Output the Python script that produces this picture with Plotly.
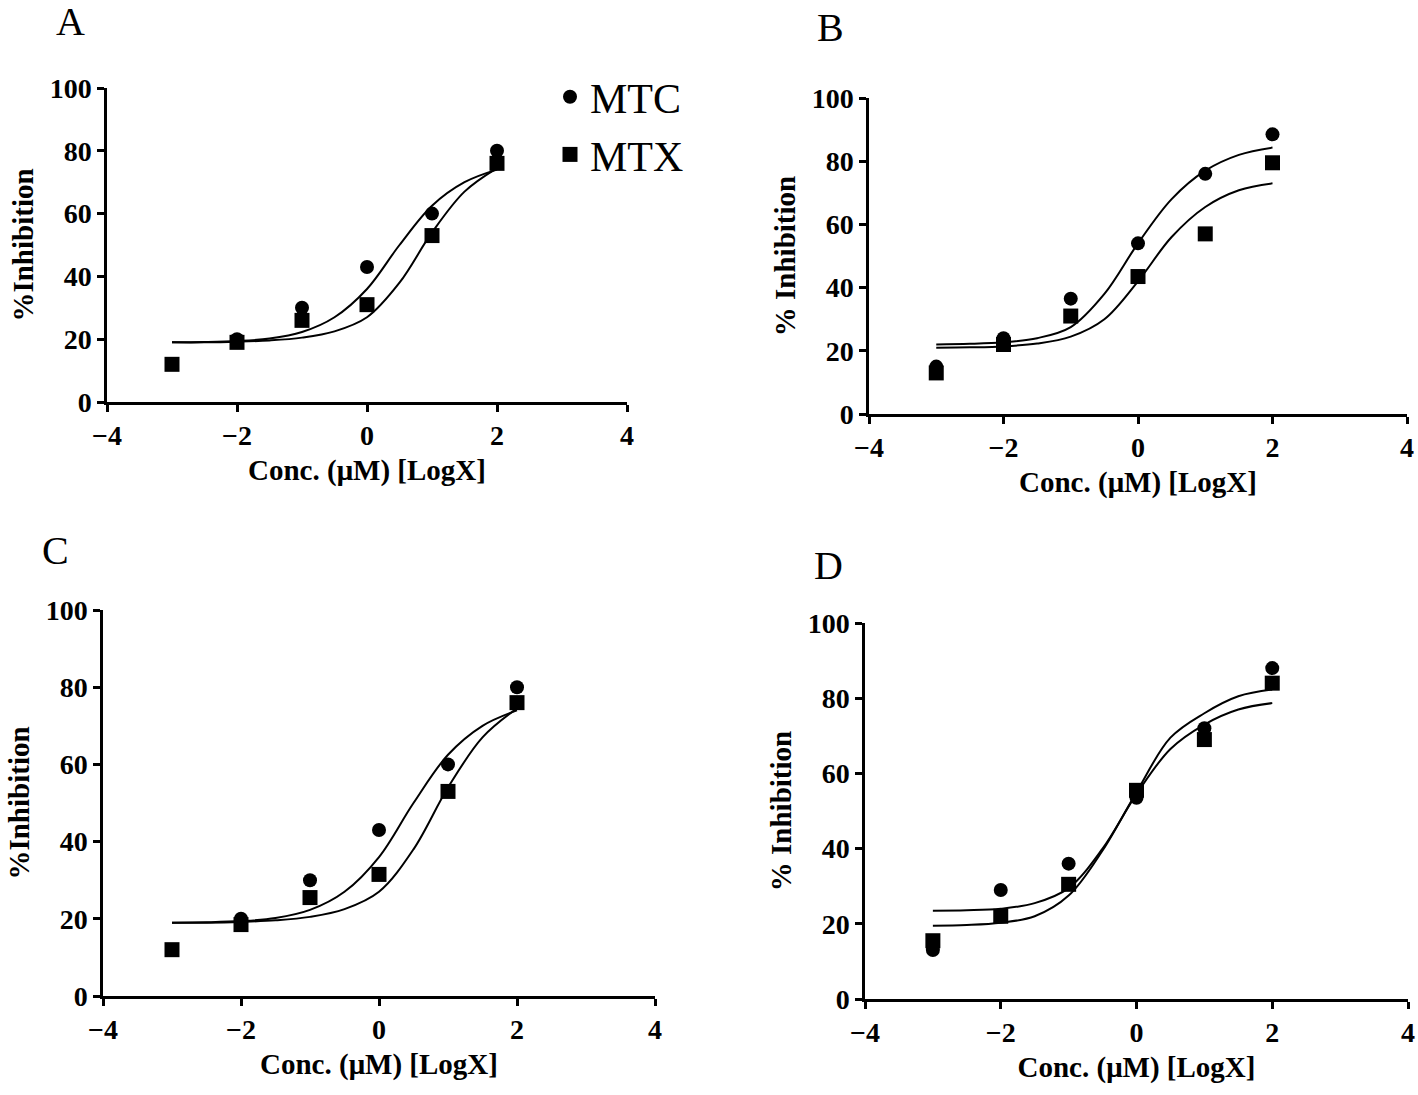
import plotly.graph_objects as go

# ---------------- data ----------------
dose_x = [-3, -2, -1, 0, 1, 2]
curve_x = [-3, -2.5, -2, -1.5, -1, -0.5, 0, 0.5, 1, 1.5, 2]

# Panel A
a_mtc_x = [-2, -1, 0, 1, 2]
a_mtc_y = [20, 30, 43, 60, 80]
a_mtx_y = [12, 19, 26, 31, 53, 76]
a_mtc_fit = [19, 19.1, 19.4, 20.2, 22.3, 27, 36, 50, 62.5, 70, 74]
a_mtx_fit = [19, 19, 19.2, 19.6, 20.5, 22.5, 27, 38, 54, 67, 74.5]

# Panel B
b_mtc_y = [15, 24, 36.5, 54, 76, 88.5]
b_mtx_y = [13, 22, 31, 43.5, 57, 79.5]
b_mtc_fit = [22, 22.2, 22.7, 24, 27.5, 38, 54, 68, 77, 82, 84.3]
b_mtx_fit = [21, 21.1, 21.4, 22.3, 24.5, 30, 42, 56, 65.5, 70.8, 73]

# Panel C
c_mtc_x = [-2, -1, 0, 1, 2]
c_mtc_y = [20, 30, 43, 60, 80]
c_mtx_y = [12, 18.5, 25.5, 31.5, 53, 76]
c_mtc_fit = [19, 19.1, 19.4, 20.2, 22.3, 27, 36, 50, 62.5, 70, 74]
c_mtx_fit = [19, 19, 19.2, 19.6, 20.5, 22.5, 27, 38, 54, 67, 74.5]

# Panel D
d_mtc_y = [13, 29, 36, 53.5, 72, 88]
d_mtx_y = [15.5, 22, 30.5, 55.5, 69, 84]
d_mtc_fit = [23.5, 23.6, 24, 25.5, 29.5, 40, 54.5, 66.5, 73, 77, 78.7]
d_mtx_fit = [19.5, 19.7, 20.3, 22, 27.5, 39.5, 55, 69.5, 76, 80.5, 82.3]

panel_labels = ["A", "B", "C", "D"]
y_titles = ["%Inhibition", "% Inhibition", "%Inhibition", "% Inhibition"]
x_title = "Conc. (\u03bcM) [LogX]"
series_names = ["MTC", "MTX"]
x_ticks = [-4, -2, 0, 2, 4]
y_ticks = [0, 20, 40, 60, 80, 100]

# ---------------- layout geometry (screen pixels) ----------------
W, H = 1418, 1095
# (left, right, top, bottom) of plot areas in screen pixels
boxes = [(107, 627, 88, 402), (869, 1407, 98, 414),
         (103, 655, 610, 996), (865, 1408, 623, 999)]
label_pos = [(70, 22), (830, 27), (55, 550), (828, 565)]


def px(x):
    return x / W


def py(y):
    return 1 - y / H


panels = [
    (a_mtc_x, a_mtc_y, dose_x, a_mtx_y, a_mtc_fit, a_mtx_fit),
    (dose_x, b_mtc_y, dose_x, b_mtx_y, b_mtc_fit, b_mtx_fit),
    (c_mtc_x, c_mtc_y, dose_x, c_mtx_y, c_mtc_fit, c_mtx_fit),
    (dose_x, d_mtc_y, dose_x, d_mtx_y, d_mtc_fit, d_mtx_fit),
]

SERIF = "Liberation Serif"
fig = go.Figure()
layout = dict(width=W, height=H, margin=dict(l=0, r=0, t=0, b=0, autoexpand=False),
              paper_bgcolor="white", plot_bgcolor="white",
              annotations=[])

for i, (mx, my, tx, ty, mfit, tfit) in enumerate(panels):
    n = "" if i == 0 else str(i + 1)
    xa, ya = "x" + n, "y" + n
    l, r, t, b = boxes[i]
    axis_common = dict(showline=True, linecolor="black", linewidth=2.5,
                       ticks="outside", ticklen=7, tickwidth=2.5, tickcolor="black",
                       showgrid=False, zeroline=False, automargin=False,
                       tickfont=dict(family=SERIF, size=28, color="black", weight="bold"))
    layout["xaxis" + n] = dict(axis_common, domain=[px(l), px(r)], range=[-4, 4],
                               tickvals=x_ticks, anchor=ya,
                               title=dict(text=x_title, standoff=10,
                                          font=dict(family=SERIF, size=29, color="black", weight="bold")))
    layout["yaxis" + n] = dict(axis_common, domain=[py(b), py(t)], range=[0, 100],
                               tickvals=y_ticks, anchor=xa,
                               title=dict(text=y_titles[i], standoff=8,
                                          font=dict(family=SERIF, size=29, color="black", weight="bold")))
    fig.add_trace(go.Scatter(x=curve_x, y=mfit, mode="lines", line=dict(color="black", width=2, shape="spline"),
                             xaxis=xa, yaxis=ya, showlegend=False, hoverinfo="skip"))
    fig.add_trace(go.Scatter(x=curve_x, y=tfit, mode="lines", line=dict(color="black", width=2, shape="spline"),
                             xaxis=xa, yaxis=ya, showlegend=False, hoverinfo="skip"))
    fig.add_trace(go.Scatter(x=mx, y=my, mode="markers", name=series_names[0],
                             marker=dict(symbol="circle", size=14, color="black"),
                             xaxis=xa, yaxis=ya, showlegend=(i == 0), cliponaxis=False))
    fig.add_trace(go.Scatter(x=tx, y=ty, mode="markers", name=series_names[1],
                             marker=dict(symbol="square", size=15, color="black"),
                             xaxis=xa, yaxis=ya, showlegend=(i == 0), cliponaxis=False))
    lx, ly = label_pos[i]
    layout["annotations"].append(dict(text=panel_labels[i], x=px(lx), y=py(ly), xref="paper", yref="paper",
                                      showarrow=False, xanchor="center", yanchor="middle",
                                      font=dict(family=SERIF, size=40, color="black")))

layout["legend"] = dict(x=px(550), y=py(63), xanchor="left", yanchor="top",
                        font=dict(family=SERIF, size=42, color="black"),
                        bgcolor="rgba(0,0,0,0)", itemsizing="trace", tracegroupgap=8)
fig.update_layout(**layout)
fig.write_html("out.html", config={"displayModeBar": False},
               post_script="document.body.style.margin='0';document.body.style.overflow='hidden';")
